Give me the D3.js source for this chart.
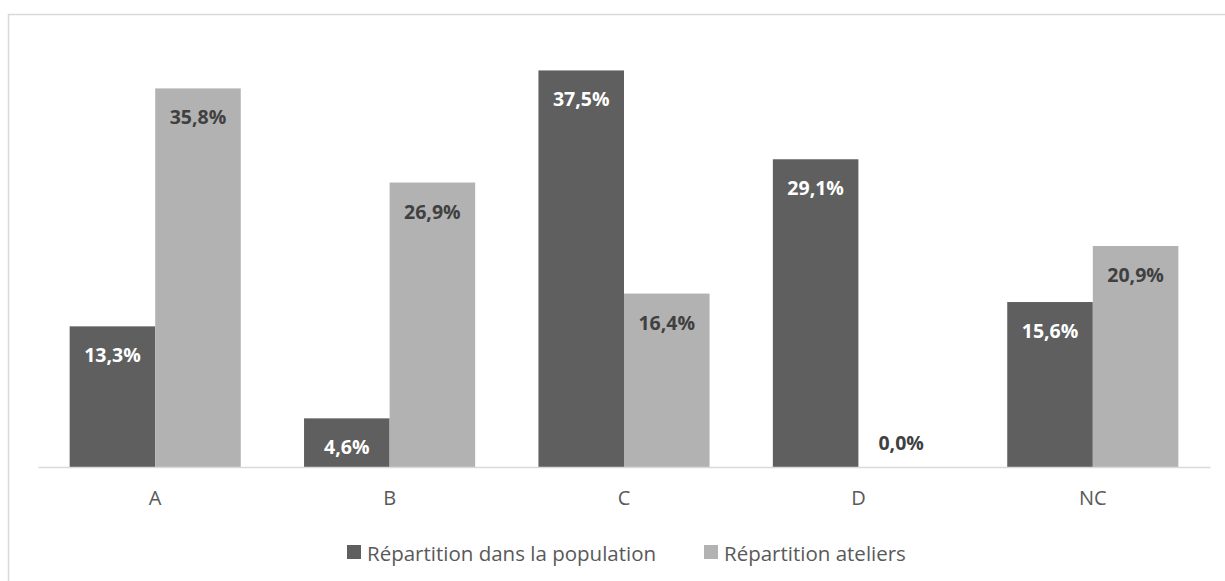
<!DOCTYPE html>
<html><head><meta charset="utf-8">
<script src="https://cdn.jsdelivr.net/npm/d3@7"></script>
<style>body{margin:0;background:#fff}svg{display:block}</style>
</head><body>
<svg id="c" width="1225" height="581"></svg>
<script>
const categories = ["A","B","C","D","NC"];
const seriesNames = ["Répartition dans la population","Répartition ateliers"];
const population = [13.3, 4.6, 37.5, 29.1, 15.6];
const ateliers = [35.8, 26.9, 16.4, 0.0, 20.9];
const colors = ["#5f5f5f","#b2b2b2"];
const labelColors = ["#ffffff","#404040"];
const font = "'Open Sans', sans-serif";

const svg = d3.select("#c");
// outer chart border
svg.append("rect").attr("x",8.5).attr("y",14.5).attr("width",1240).attr("height",600)
  .attr("fill","none").attr("stroke","#d9d9d9").attr("stroke-width",1.5);

const x0 = d3.scaleBand().domain(categories).range([38,1210]).paddingInner(0.27).paddingOuter(0.135);
const x1 = d3.scaleBand().domain([0,1]).range([0,x0.bandwidth()]);
const y = d3.scaleLinear().domain([0,40]).range([467,44]);

const data = categories.map((c,i)=>({cat:c, vals:[population[i], ateliers[i]]}));
const g = svg.append("g");
const groups = g.selectAll("g.grp").data(data).join("g").attr("transform",d=>`translate(${x0(d.cat)},0)`);
groups.selectAll("rect").data(d=>d.vals.map((v,k)=>({v,k}))).join("rect")
  .attr("x",d=>x1(d.k)).attr("width",x1.bandwidth())
  .attr("y",d=>y(d.v)).attr("height",d=>y(0)-y(d.v))
  .attr("fill",d=>colors[d.k]);
const fmt = v => v.toFixed(1).replace(".",",")+"%";
groups.selectAll("text").data(d=>d.vals.map((v,k)=>({v,k}))).join("text")
  .attr("x",d=>x1(d.k)+x1.bandwidth()/2)
  .attr("y",d=> d.v===0 ? y(0)-17 : y(d.v)+36)
  .attr("text-anchor","middle")
  .attr("font-family",font).attr("font-weight","bold").attr("font-size",19.5)
  .attr("fill",d=> d.v===0 ? "#404040" : labelColors[d.k])
  .text(d=>fmt(d.v));

// axis
const ax = svg.append("g").attr("transform","translate(0,467)").call(d3.axisBottom(x0).tickSize(0).tickPadding(24));
ax.select(".domain").attr("stroke","#d9d9d9").attr("stroke-width",1.5);
ax.selectAll("text").attr("font-family",font).attr("font-size",20).attr("fill","#595959");

// legend
const legX = [347, 704];
seriesNames.forEach((n,i)=>{
  svg.append("rect").attr("x",legX[i]).attr("y",545).attr("width",14).attr("height",14).attr("fill",colors[i]);
  svg.append("text").attr("x",legX[i]+20).attr("y",561).attr("font-family",font).attr("font-size",20.5)
    .attr("fill","#595959").text(n);
});
</script>
</body></html>
